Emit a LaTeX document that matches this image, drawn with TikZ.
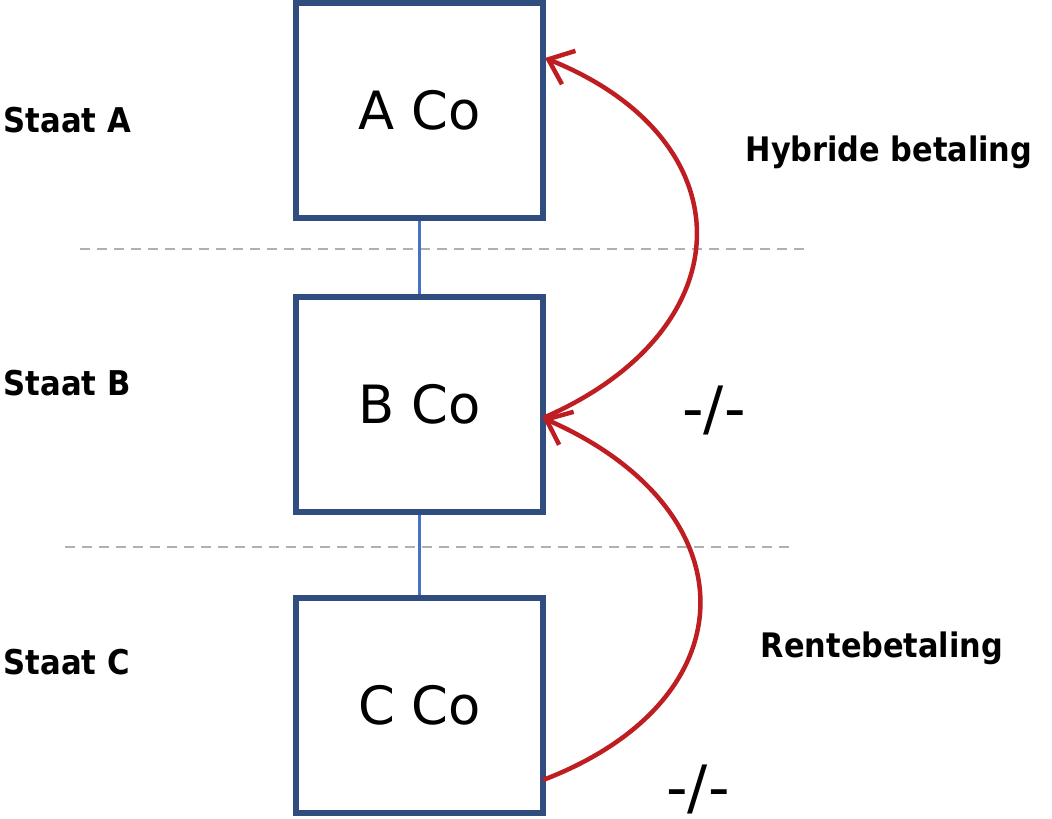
\documentclass[tikz,border=0pt]{standalone}
\usepackage{fontspec}
\setmainfont{DejaVu Sans}
\newfontfamily\condfont{DejaVu Sans Condensed}
\usetikzlibrary{arrows.meta}

\definecolor{boxblue}{HTML}{2F4D7E}
\definecolor{linkblue}{HTML}{4472C4}
\definecolor{payred}{HTML}{BE1E22}
\definecolor{sepgray}{HTML}{B0B0B0}

\begin{document}
\begin{tikzpicture}
    [x=0.01cm, y=-0.01cm,
     company/.style={draw=boxblue, line width=0.06cm, minimum width=2.47cm,
                     minimum height=2.15cm, inner sep=0pt, font=\fontsize{15}{18}\selectfont},
     staat/.style={anchor=west, inner sep=0pt, font=\condfont\bfseries\fontsize{9.7}{12}\selectfont},
     paylabel/.style={inner sep=0pt, font=\condfont\bfseries\fontsize{9.6}{12}\selectfont},
     neutral/.style={inner sep=0pt, font=\fontsize{17}{20}\selectfont},
     link/.style={draw=linkblue, line width=0.025cm},
     sep/.style={draw=sepgray, line width=0.025cm, dash pattern=on 0.1cm off 0.07cm},
     pay/.style={draw=payred, line width=0.045cm, -{Straight Barb[length=2.2mm, width=3.6mm]}}]

    \useasboundingbox (0,0) rectangle (1052,819);

    \draw[sep] (80,249) -- (808,249);
    \draw[sep] (65,547) -- (790,547);

    \node[company] (aco) at (419.5,110.5) {A Co};
    \node[company] (bco) at (419.5,404.5) {B Co};
    \node[company] (cco) at (419.5,705.5) {C Co};

    \draw[link] (aco) -- (bco);
    \draw[link] (bco) -- (cco);

    \node[staat] (staatA) at (3,120) {Staat A};
    \node[staat] (staatB) at (3,383) {Staat B};
    \node[staat] (staatC) at (3,662) {Staat C};

    \coordinate (ain) at (545,58);
    \coordinate (bin) at (543,418);
    \coordinate (cout) at (543,780);

    \draw[pay] (bin) .. controls +(203,-88) and +(203,82) .. (ain);
    \draw[pay] (cout) .. controls +(209,-80) and +(209,92) .. (bin);

    \node[paylabel] (hybride) at (889,152) {Hybride betaling};
    \node[paylabel] (rente) at (882,648) {Rentebetaling};
    \node[neutral] (nietAB) at (714,410) {-/-};
    \node[neutral] (nietBC) at (698,789) {-/-};
\end{tikzpicture}
\end{document}
